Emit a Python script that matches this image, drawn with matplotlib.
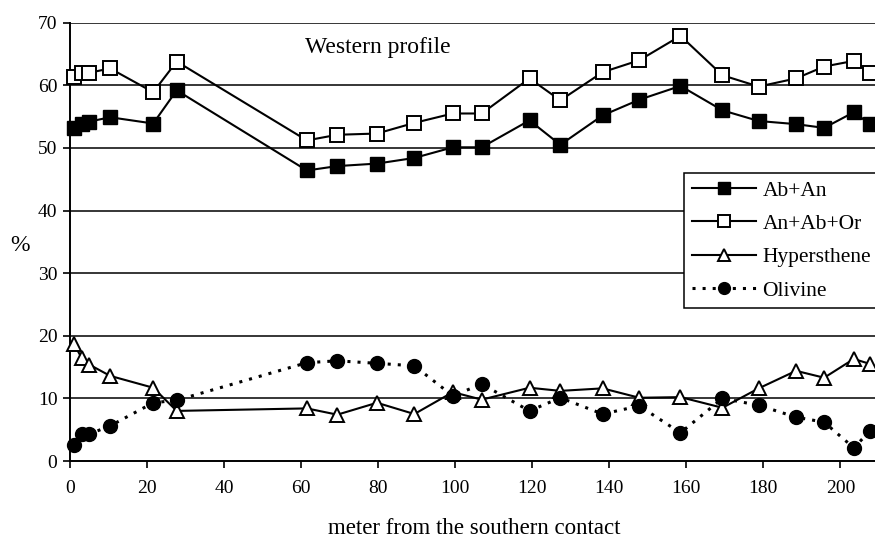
import matplotlib
matplotlib.use("Agg")
import matplotlib.pyplot as plt

plt.rcParams['font.family'] = ['Liberation Serif', 'DejaVu Serif']

# distance along the profile (m)
dist = [1, 3, 5, 10.4, 21.6, 27.7, 61.5, 69.4, 79.7, 89.4, 99.4, 106.9,
        119.3, 127.3, 138.3, 147.8, 158.5, 169.4, 178.8, 188.5, 195.8, 203.5, 207.7]

ab_an = [53.2, 53.9, 54.2, 54.9, 53.9, 59.2, 46.4, 47.1, 47.5, 48.4, 50.1, 50.1,
         54.4, 50.5, 55.2, 57.7, 59.9, 56.0, 54.3, 53.8, 53.2, 55.7, 53.8]
an_ab_or = [61.4, 62.0, 62.0, 62.7, 58.9, 63.8, 51.2, 52.1, 52.3, 54.0, 55.5, 55.5,
            61.1, 57.6, 62.1, 64.0, 67.9, 61.6, 59.8, 61.1, 63.0, 63.9, 62.0]
hyp = [18.7, 16.5, 15.4, 13.6, 11.7, 8.0, 8.4, 7.4, 9.3, 7.5, 11.0, 9.8,
       11.7, 11.2, 11.6, 10.1, 10.2, 8.5, 11.6, 14.4, 13.3, 16.3, 15.5]
olivine = [2.5, 4.3, 4.3, 5.6, 9.3, 9.7, 15.7, 16.0, 15.6, 15.2, 10.4, 12.3,
           8.0, 10.1, 7.5, 8.8, 4.5, 10.0, 8.9, 7.0, 6.2, 2.1, 4.8]

fig = plt.figure(figsize=(8.75, 5.38), dpi=100)
ax = fig.add_axes([70 / 875, 1 - 461 / 538, 1 - 70 / 875, (461 - 22.7) / 538])

for y in range(10, 71, 10):
    ax.axhline(y, color='black', lw=1.1, zorder=1)

ax.plot(dist, ab_an, color='black', lw=1.5, marker='s', ms=9.5, mfc='black',
        mec='black', label='Ab+An', zorder=3, clip_on=False)
ax.plot(dist, an_ab_or, color='black', lw=1.5, marker='s', ms=9.5, mfc='white',
        mec='black', mew=1.4, label='An+Ab+Or', zorder=3, clip_on=False)
ax.plot(dist, hyp, color='black', lw=1.5, marker='^', ms=10.5, mfc='white',
        mec='black', mew=1.4, label='Hypersthene', zorder=3, clip_on=False)
ax.plot(dist, olivine, color='black', lw=2.2, ls=(0, (1, 2.3)), marker='o', ms=10,
        mfc='black', mec='black', label='Olivine', zorder=4, clip_on=False)

ax.set_xlim(0, 209)
ax.set_ylim(0, 70)
ax.set_xticks(range(0, 201, 20))
ax.set_yticks(range(0, 71, 10))
ax.tick_params(labelsize=14, length=5, width=1.2, direction='out', pad=9)
ax.tick_params(axis='y', pad=4)
ax.spines['top'].set_visible(False)
ax.spines['right'].set_visible(False)
ax.spines['left'].set_linewidth(1.4)
ax.spines['bottom'].set_linewidth(1.4)

ax.text(61, 66, 'Western profile', fontsize=17, va='center', ha='left')
fig.text(20 / 875, 1 - 245 / 538, '%', fontsize=17, ha='center', va='center')
fig.text(474 / 875, 1 - 529 / 538, 'meter from the southern contact',
         fontsize=16.5, ha='center', va='center')

leg = fig.legend(loc='upper left', bbox_to_anchor=(684 / 875, 1 - 173 / 538),
                 fontsize=15.5, handlelength=3.0, markerscale=0.85, fancybox=False,
                 framealpha=1, edgecolor='black', borderpad=0.35,
                 labelspacing=0.62, handletextpad=0.3, borderaxespad=0)
leg.get_frame().set_linewidth(1.1)

fig.savefig('out.png', dpi=100)
